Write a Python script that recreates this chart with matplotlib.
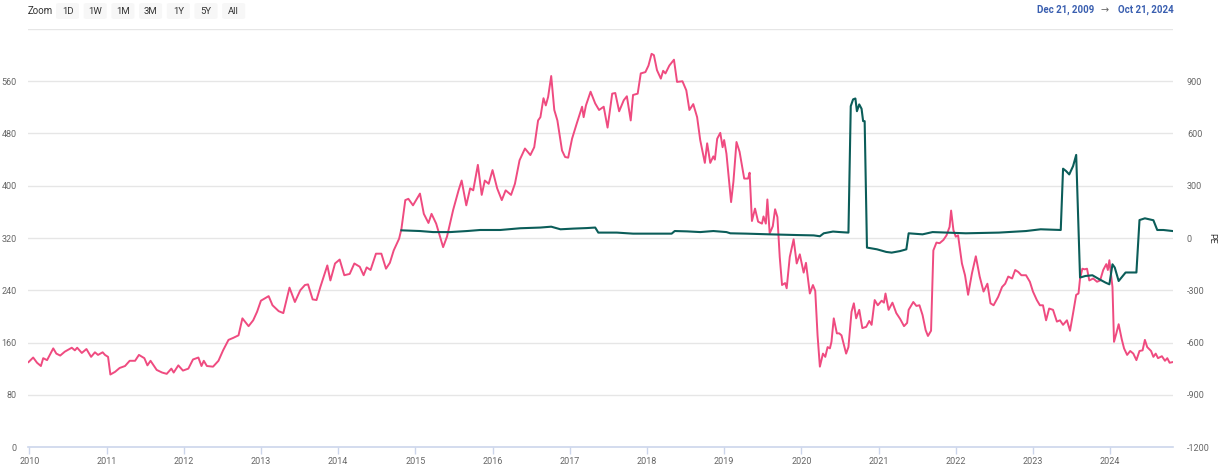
import matplotlib.pyplot as plt
from matplotlib.patches import FancyBboxPatch

plt.rcParams['font.family'] = ['Roboto', 'DejaVu Sans']

# Precio (eje izquierdo), fechas en años decimales
price_years = [
    2009.99, 2010.05, 2010.10, 2010.15, 2010.18, 2010.23, 2010.31, 2010.35, 2010.40, 2010.46,
    2010.55, 2010.59, 2010.62, 2010.68, 2010.74, 2010.80, 2010.85, 2010.89, 2010.95, 2010.98,
    2011.02, 2011.05, 2011.11, 2011.17, 2011.24, 2011.30, 2011.37, 2011.42, 2011.49, 2011.53,
    2011.57, 2011.65, 2011.72, 2011.78, 2011.84, 2011.87, 2011.93, 2011.99, 2012.06, 2012.12,
    2012.19, 2012.23, 2012.26, 2012.30, 2012.38, 2012.45, 2012.51, 2012.58, 2012.64, 2012.71,
    2012.76, 2012.84, 2012.90, 2012.95, 2013.00, 2013.10, 2013.15, 2013.23, 2013.29, 2013.37,
    2013.44, 2013.51, 2013.57, 2013.61, 2013.67, 2013.72, 2013.77, 2013.86, 2013.90, 2013.96,
    2014.02, 2014.08, 2014.15, 2014.21, 2014.28, 2014.33, 2014.37, 2014.42, 2014.49, 2014.56,
    2014.62, 2014.67, 2014.72, 2014.79, 2014.82, 2014.87, 2014.91, 2014.97, 2015.01, 2015.06,
    2015.11, 2015.17, 2015.21, 2015.27, 2015.32, 2015.36, 2015.41, 2015.49, 2015.56, 2015.60,
    2015.66, 2015.71, 2015.75, 2015.81, 2015.86, 2015.90, 2015.95, 2016.00, 2016.06, 2016.12,
    2016.17, 2016.24, 2016.29, 2016.35, 2016.42, 2016.49, 2016.54, 2016.59, 2016.62, 2016.66,
    2016.69, 2016.72, 2016.76, 2016.80, 2016.84, 2016.90, 2016.94, 2016.98, 2017.03, 2017.09,
    2017.16, 2017.18, 2017.21, 2017.27, 2017.33, 2017.38, 2017.44, 2017.49, 2017.55, 2017.59,
    2017.64, 2017.70, 2017.74, 2017.79, 2017.82, 2017.88, 2017.92, 2017.98, 2018.02, 2018.06,
    2018.09, 2018.13, 2018.18, 2018.21, 2018.24, 2018.29, 2018.35, 2018.39, 2018.46, 2018.51,
    2018.55, 2018.60, 2018.65, 2018.69, 2018.75, 2018.78, 2018.82, 2018.86, 2018.88, 2018.91,
    2018.95, 2018.98, 2019.00, 2019.03, 2019.09, 2019.12, 2019.16, 2019.20, 2019.26, 2019.31,
    2019.33, 2019.36, 2019.40, 2019.44, 2019.49, 2019.51, 2019.54, 2019.56, 2019.59, 2019.63,
    2019.66, 2019.69, 2019.72, 2019.75, 2019.79, 2019.81, 2019.85, 2019.90, 2019.94, 2019.98,
    2020.03, 2020.06, 2020.11, 2020.15, 2020.18, 2020.21, 2020.24, 2020.28, 2020.31, 2020.34,
    2020.37, 2020.39, 2020.42, 2020.46, 2020.49, 2020.52, 2020.58, 2020.61, 2020.65, 2020.68,
    2020.71, 2020.75, 2020.79, 2020.84, 2020.88, 2020.91, 2020.95, 2020.99, 2021.04, 2021.07,
    2021.09, 2021.13, 2021.18, 2021.23, 2021.28, 2021.33, 2021.37, 2021.39, 2021.45, 2021.49,
    2021.53, 2021.57, 2021.61, 2021.64, 2021.68, 2021.71, 2021.75, 2021.79, 2021.84, 2021.88,
    2021.92, 2021.94, 2021.97, 2022.00, 2022.03, 2022.08, 2022.12, 2022.16, 2022.21, 2022.26,
    2022.31, 2022.36, 2022.41, 2022.45, 2022.49, 2022.55, 2022.60, 2022.64, 2022.68, 2022.73,
    2022.77, 2022.81, 2022.85, 2022.91, 2022.96, 2023.00, 2023.05, 2023.09, 2023.13, 2023.17,
    2023.21, 2023.26, 2023.31, 2023.35, 2023.39, 2023.44, 2023.48, 2023.52, 2023.56, 2023.59,
    2023.61, 2023.64, 2023.67, 2023.70, 2023.73, 2023.78, 2023.83, 2023.87, 2023.91, 2023.95,
    2023.97, 2023.99, 2024.03, 2024.05, 2024.08, 2024.11, 2024.15, 2024.18, 2024.22, 2024.26,
    2024.30, 2024.34, 2024.38, 2024.42, 2024.45, 2024.48, 2024.53, 2024.56, 2024.59, 2024.62,
    2024.67, 2024.71, 2024.74, 2024.77, 2024.81,
]
price = [
    130, 137, 129, 124, 136, 133, 151, 143, 140, 146,
    152, 148, 152, 144, 150, 138, 145, 141, 145, 141,
    138, 111, 115, 121, 124, 132, 132, 141, 136, 125,
    132, 118, 114, 112, 120, 114, 125, 117, 120, 134,
    137, 124, 132, 124, 123, 132, 148, 164, 167, 171,
    197, 185, 194, 207, 224, 231, 217, 208, 205, 244,
    222, 240, 248, 249, 226, 225, 245, 278, 255, 281,
    287, 263, 265, 281, 276, 263, 275, 271, 296, 296,
    273, 282, 301, 319, 334, 378, 380, 370, 378, 388,
    357, 343, 357, 342, 322, 306, 322, 363, 393, 408,
    370, 396, 393, 432, 386, 408, 403, 424, 396, 378,
    393, 386, 403, 439, 457, 447, 459, 500, 505, 534,
    523, 536, 568, 516, 500, 454, 444, 443, 472, 495,
    521, 505, 523, 544, 526, 516, 521, 489, 541, 542,
    514, 531, 537, 500, 539, 541, 572, 574, 584, 602,
    600, 577, 564, 576, 572, 584, 593, 559, 560, 546,
    516, 525, 505, 470, 435, 465, 435, 445, 440, 472,
    481, 459, 470, 449, 375, 406, 467, 452, 411, 411,
    420, 346, 365, 345, 342, 353, 342, 379, 327, 338,
    364, 352, 291, 248, 251, 243, 291, 318, 281, 295,
    267, 282, 235, 248, 239, 171, 123, 143, 138, 153,
    151, 161, 197, 174, 174, 171, 143, 153, 207, 220,
    197, 210, 182, 184, 193, 187, 225, 217, 224, 221,
    235, 210, 221, 205, 196, 185, 190, 210, 222, 216,
    217, 202, 179, 170, 178, 301, 313, 312, 317, 324,
    337, 362, 332, 322, 324, 281, 263, 233, 266, 292,
    261, 238, 250, 220, 217, 230, 245, 250, 261, 258,
    271, 268, 263, 263, 253, 238, 225, 217, 217, 194,
    212, 210, 192, 194, 187, 194, 178, 205, 233, 235,
    258, 273, 272, 273, 255, 258, 253, 255, 271, 280,
    271, 286, 245, 161, 174, 188, 165, 151, 141, 147,
    143, 133, 147, 148, 164, 153, 147, 138, 143, 136,
    139, 132, 136, 129, 130,
]

# PE (eje derecho)
pe_years = [
    2014.82, 2015.06, 2015.23, 2015.45, 2015.67, 2015.84, 2016.10, 2016.36, 2016.62, 2016.76,
    2016.88, 2017.05, 2017.22, 2017.33, 2017.37, 2017.61, 2017.82, 2018.32, 2018.36, 2018.52,
    2018.69, 2018.86, 2019.03, 2019.08, 2019.29, 2019.59, 2019.94, 2020.16, 2020.24, 2020.29,
    2020.41, 2020.50, 2020.61, 2020.64, 2020.67, 2020.70, 2020.72, 2020.75, 2020.78, 2020.80,
    2020.82, 2020.85, 2020.98, 2021.10, 2021.17, 2021.28, 2021.36, 2021.39, 2021.57, 2021.70,
    2022.13, 2022.56, 2022.91, 2023.10, 2023.36, 2023.39, 2023.43, 2023.47, 2023.52, 2023.56,
    2023.61, 2023.68, 2023.77, 2023.86, 2023.94, 2023.99, 2024.03, 2024.06, 2024.11, 2024.20,
    2024.34, 2024.38, 2024.45, 2024.56, 2024.61, 2024.69, 2024.81,
]
pe = [
    44, 40, 34, 34, 40, 46, 46, 56, 60, 65,
    50, 54, 57, 60, 31, 31, 25, 25, 40, 38,
    34, 40, 34, 27, 25, 21, 17, 15, 10, 27,
    37, 34, 31, 757, 796, 801, 728, 767, 742, 671,
    671, -55, -65, -80, -84, -75, -65, 27, 21, 34,
    27, 31, 40, 50, 46, 398, 384, 365, 413, 477,
    -227, -218, -214, -237, -256, -266, -151, -170, -247, -198,
    -198, 103, 113, 102, 46, 46, 40,
]

year_ticks = list(range(2010, 2025))
left_ticks = [0, 80, 160, 240, 320, 400, 480, 560, 640]
right_ticks = [-1200, -900, -600, -300, 0, 300, 600, 900, 1200]
zoom_buttons = ['1D', '1W', '1M', '3M', '1Y', '5Y', 'All']

fig = plt.figure(figsize=(12.21, 4.65), dpi=100)
ax1 = fig.add_axes([28 / 1221, 18 / 465, 1145 / 1221, 418 / 465])
ax2 = ax1.twinx()

grid_color = '#e6e6e6'
label_color = '#666666'

ax1.plot(price_years, price, color='#ef4b80', lw=1.4, zorder=3)
ax2.plot(pe_years, pe, color='#0b5d59', lw=1.5, zorder=3)

ax1.set_xlim(2009.983, 2024.814)
ax1.set_ylim(0, 640)
ax2.set_ylim(-1200, 1200)

# cuadrícula horizontal
for v in left_ticks[1:]:
    ax1.axhline(v, color=grid_color, lw=1, zorder=0)

ax1.set_xticks(year_ticks)
ax1.set_xticklabels([str(y) for y in year_ticks])
ax1.set_yticks(left_ticks[:-1])
ax1.set_yticklabels([str(v) for v in left_ticks[:-1]])
ax2.set_yticks(right_ticks[:-1])
ax2.set_yticklabels([str(v) for v in right_ticks[:-1]])

ax1.tick_params(axis='x', colors='#ccd6eb', length=5, width=1, labelcolor=label_color,
                labelsize=6.5, pad=2)
ax1.tick_params(axis='y', length=0, labelcolor=label_color, labelsize=6.5, pad=8)
ax2.tick_params(axis='y', length=0, labelcolor=label_color, labelsize=6.5, pad=10)

for ax in (ax1, ax2):
    for s in ('top', 'left', 'right', 'bottom'):
        ax.spines[s].set_visible(False)
ax1.axhline(0, color='#ccd6eb', lw=1.2, zorder=1, clip_on=False)

# etiqueta del eje derecho, colocada a mano para que no se corte
ax2.set_ylabel('PE', rotation=270, fontsize=6.5, color='#333333', va='center')
ax2.yaxis.set_label_coords(1212 / 1221 * (1221 / 1145) - 28 / 1145, 0.5)

# barra superior con botones de zoom
fig.text(28 / 1221, 1 - 11 / 465, 'Zoom', fontsize=7, color='#333333', va='center')
bx = 56
for b in zoom_buttons:
    fig.patches.append(FancyBboxPatch((bx / 1221, 1 - 19 / 465), 23 / 1221, 16 / 465,
                                      boxstyle='round,pad=0,rounding_size=0.003',
                                      transform=fig.transFigure, fc='#f7f7f7', ec='none'))
    fig.text((bx + 11.5) / 1221, 1 - 11 / 465, b, fontsize=6.8, color='#333333',
             ha='center', va='center')
    bx += 27.7

fig.text(1094 / 1221, 1 - 10 / 465, 'Dec 21, 2009', fontsize=7, color='#3a5fb0',
         fontweight='bold', ha='right', va='center')
fig.text(1105 / 1221, 1 - 10 / 465, '→', fontsize=7, color='#666666', ha='center', va='center')
fig.text(1118 / 1221, 1 - 10 / 465, 'Oct 21, 2024', fontsize=7, color='#3a5fb0',
         fontweight='bold', ha='left', va='center')

fig.savefig('out.png', dpi=100)
